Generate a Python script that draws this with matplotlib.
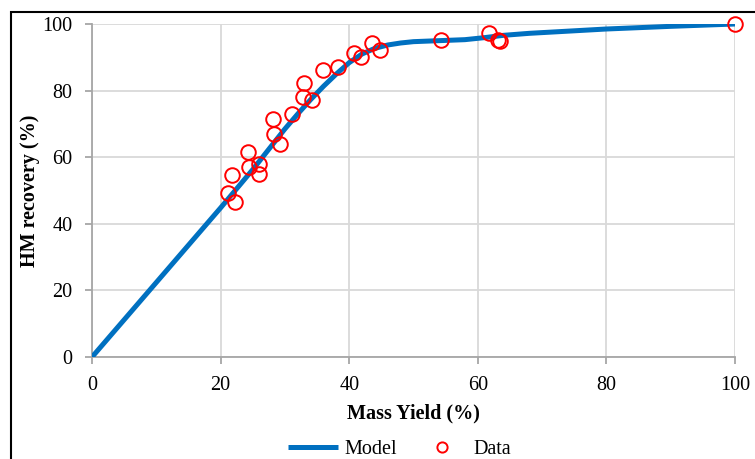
import matplotlib.pyplot as plt
from matplotlib.patches import Rectangle

# Model curve (mass yield vs HM recovery)
model_yield = [0, 10, 20, 25, 30, 32, 34, 36, 38, 40, 42, 44, 46, 48, 50, 54,
               58, 61, 64, 68, 80, 90, 100]
model_recovery = [0, 22.4, 44.8, 56.3, 68.5, 73.0, 77.3, 81.3, 85.0, 88.4, 91.0,
                  92.7, 93.7, 94.3, 94.7, 95.0, 95.3, 95.9, 96.6, 97.2, 98.5,
                  99.3, 100]

# Measured points
data_yield = [21.2, 22.2, 21.7, 24.3, 24.4, 25.9, 25.9, 28.1, 28.3, 29.2, 31.1,
              32.9, 32.8, 34.2, 35.9, 38.2, 40.7, 41.8, 43.5, 44.8, 54.2,
              61.7, 63.1, 63.5, 100]
data_recovery = [49.2, 46.6, 54.6, 61.5, 57.1, 58.0, 55.0, 71.4, 67.1, 64.1, 72.9,
                 82.4, 78.1, 77.1, 86.1, 87.1, 91.2, 90.1, 94.2, 92.1, 95.1,
                 97.2, 95.2, 95.0, 100]

ticks = [0, 20, 40, 60, 80, 100]

plt.rcParams['font.family'] = ['Liberation Serif', 'DejaVu Serif']
plt.rcParams['font.size'] = 14.5

fig = plt.figure(figsize=(7.55, 4.59), dpi=100)
ax = fig.add_axes([0.1219, 0.2222, 0.8516, 0.7255])

ax.plot(model_yield, model_recovery, color='#0070C0', lw=3.6, label='Model',
        solid_capstyle='butt', solid_joinstyle='round', zorder=3)
ax.plot(data_yield, data_recovery, ls='none', marker='o', ms=10.5, mfc='none',
        mec='#FF0000', mew=1.4, label='Data', zorder=4, clip_on=False)

ax.set_xlim(0, 100)
ax.set_ylim(0, 100)
ax.set_xticks(ticks)
ax.set_yticks(ticks)
ax.grid(True, color='#D9D9D9', lw=1.3)
ax.set_axisbelow(True)

for side in ['top', 'right']:
    ax.spines[side].set_visible(False)
for side in ['left', 'bottom']:
    ax.spines[side].set_color('#A6A6A6')
    ax.spines[side].set_linewidth(1.3)
ax.tick_params(axis='both', direction='out', length=5, width=1.3,
               color='#A6A6A6', labelcolor='black')
ax.tick_params(axis='y', pad=9)
ax.tick_params(axis='x', pad=9)

ax.set_xlabel('Mass Yield (%)', fontweight='bold', labelpad=6)
ax.set_ylabel('HM recovery (%)', fontweight='bold', labelpad=2)

leg = fig.legend(loc='center', bbox_to_anchor=(0.529, 0.02), ncol=2,
                 frameon=False, handlelength=2.5, handletextpad=0.3,
                 columnspacing=1.0, markerscale=0.7)

# outer frame around the figure
fig.patches.append(Rectangle((11 / 755, -0.1), 1.2, 1.1 - 12 / 459,
                             transform=fig.transFigure, fill=False,
                             edgecolor='black', lw=1.5))

fig.savefig('out.png', dpi=100)
